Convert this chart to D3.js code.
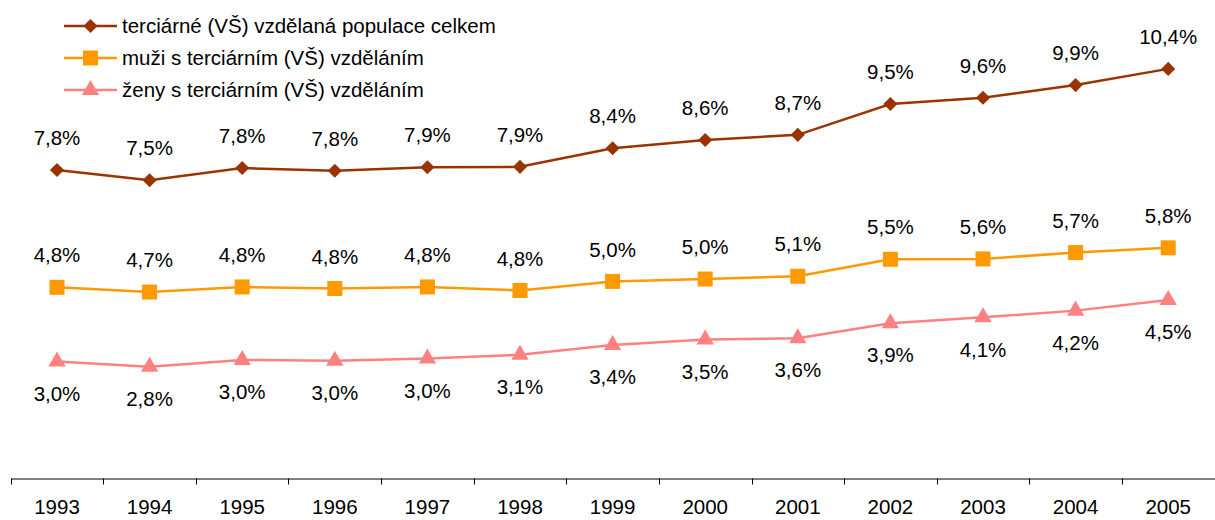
<!DOCTYPE html>
<html>
<head>
<meta charset="utf-8">
<script src="https://cdn.jsdelivr.net/npm/d3@7"></script>
<style>
  body { margin: 0; background: #fff; }
  svg text { font-family: "Liberation Sans", Arial, sans-serif; fill: #000; }
</style>
</head>
<body>
<script>
// data
const years = ['1993','1994','1995','1996','1997','1998','1999','2000','2001','2002','2003','2004','2005']
const total = [7.81, 7.55, 7.86, 7.79, 7.88, 7.89, 8.36, 8.57, 8.70, 9.48, 9.64, 9.96, 10.37]
const totalLabels = ['7,8%','7,5%','7,8%','7,8%','7,9%','7,9%','8,4%','8,6%','8,7%','9,5%','9,6%','9,9%','10,4%']
const men = [4.84, 4.72, 4.85, 4.81, 4.85, 4.76, 4.99, 5.05, 5.12, 5.55, 5.56, 5.72, 5.84]
const menLabels = ['4,8%','4,7%','4,8%','4,8%','4,8%','4,8%','5,0%','5,0%','5,1%','5,5%','5,6%','5,7%','5,8%']
const women = [2.96, 2.83, 3.0, 2.98, 3.04, 3.13, 3.38, 3.52, 3.55, 3.93, 4.08, 4.25, 4.52]
const womenLabels = ['3,0%','2,8%','3,0%','3,0%','3,0%','3,1%','3,4%','3,5%','3,6%','3,9%','4,1%','4,2%','4,5%']
const seriesNames = ['terciárné (VŠ) vzdělaná populace celkem', 'muži s terciárním (VŠ) vzděláním', 'ženy s terciárním (VŠ) vzděláním']

const width = 1215, height = 520
const fontSize = '20.5px'
const svg = d3.select('body').append('svg')
    .attr('width', width)
    .attr('height', height)

const x = d3.scaleBand().domain(years).range([10.7, 1214.5]).padding(0)
const y = d3.scaleLinear().domain([0, 12]).range([478.5, 4.5])
const cx = d => x(d) + x.bandwidth() / 2

// x axis
const axis = svg.append('g')
    .attr('transform', 'translate(0,478.5)')
    .call(d3.axisBottom(x).tickSize(0).tickSizeOuter(0).tickPadding(21))
axis.select('.domain').attr('stroke', '#000').attr('stroke-width', 1)
axis.selectAll('text').style('font-size', fontSize).attr('fill', '#000')
axis.selectAll('.boundary')
    .data(years)
    .enter().append('line')
    .attr('class', 'boundary')
    .attr('x1', d => Math.round(x(d)) + 0.5)
    .attr('x2', d => Math.round(x(d)) + 0.5)
    .attr('y1', 0)
    .attr('y2', 6)
    .attr('stroke', '#000')

const diamond = d3.symbol().type(d3.symbolSquare).size(100)
const square = d3.symbol().type(d3.symbolSquare).size(225)
const triangle = d3.symbol().type(d3.symbolTriangle).size(130)

const series = [
    {name: seriesNames[0], values: total, labels: totalLabels, color: '#993300', shape: diamond, rot: 45, dy: -32},
    {name: seriesNames[1], values: men, labels: menLabels, color: '#FF9900', shape: square, rot: 0, dy: -32},
    {name: seriesNames[2], values: women, labels: womenLabels, color: '#FF8080', shape: triangle, rot: 0, dy: 32}
]

const line = d3.line()
    .x((d, i) => cx(years[i]))
    .y(d => y(d))

series.forEach(s => {
    let g = svg.append('g')
    g.append('path')
        .attr('d', line(s.values))
        .attr('fill', 'none')
        .attr('stroke', s.color)
        .attr('stroke-width', 2.5)
    g.selectAll('.mark')
        .data(s.values).enter()
        .append('path')
        .attr('class', 'mark')
        .attr('d', s.shape)
        .attr('fill', s.color)
        .attr('transform', (d, i) => `translate(${cx(years[i])},${y(d)}) rotate(${s.rot})`)
    g.selectAll('.lbl')
        .data(s.values).enter()
        .append('text')
        .attr('class', 'lbl')
        .attr('x', (d, i) => cx(years[i]))
        .attr('y', d => y(d) + s.dy)
        .attr('dy', '0.35em')
        .attr('text-anchor', 'middle')
        .style('font-size', fontSize)
        .text((d, i) => s.labels[i])
})

// legend
const legend = svg.append('g')
    .selectAll('g')
    .data(series).enter()
    .append('g')
    .attr('transform', (d, i) => `translate(0,${26 + i * 32})`)
legend.append('line')
    .attr('x1', 64).attr('x2', 117)
    .attr('stroke', d => d.color)
    .attr('stroke-width', 2.5)
legend.append('path')
    .attr('d', d => d.shape())
    .attr('fill', d => d.color)
    .attr('transform', d => `translate(90.5,0) rotate(${d.rot})`)
legend.append('text')
    .attr('x', 122)
    .attr('dy', '0.35em')
    .style('font-size', fontSize)
    .text(d => d.name)
</script>
</body>
</html>
